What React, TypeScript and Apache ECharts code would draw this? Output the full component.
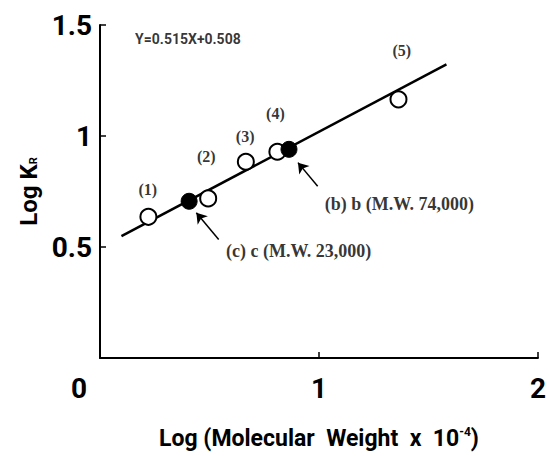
import React, { useEffect, useRef } from "react";
import * as echarts from "echarts";

// ---- data ----
const xTickValues = [0, 1, 2];
const yTickValues = [0.5, 1, 1.5];

const openX = [0.221, 0.494, 0.666, 0.81, 1.363];
const openY = [0.636, 0.719, 0.884, 0.929, 1.165];

const filledX = [0.407, 0.863];
const filledY = [0.706, 0.94];

const fitX = [0.098, 1.582];
const fitY = [0.549, 1.323];

const pointLabels = ["(1)", "(2)", "(3)", "(4)", "(5)"];
const pointLabelX = [0.218, 0.485, 0.663, 0.801, 1.378];
const pointLabelY = [0.759, 0.907, 1.0, 1.102, 1.387];

const noteTexts = ["(b) b (M.W. 74,000)", "(c) c (M.W. 23,000)"];
const noteX = [1.024, 0.573];
const noteY = [0.695, 0.481];

const arrowTailX = [0.994, 0.542];
const arrowTailY = [0.774, 0.534];
const arrowHeadX = [0.904, 0.44];
const arrowHeadY = [0.88, 0.654];

const equationText = "Y=0.515X+0.508";
const equationX = [0.158];
const equationY = [1.436];

const SANS = "Roboto, 'Liberation Sans', sans-serif";
const SERIF = "'Liberation Serif', 'DejaVu Serif', serif";

export default function App() {
  const ref = useRef<HTMLDivElement>(null);
  useEffect(() => {
    const chart = echarts.init(ref.current!, null, { renderer: "svg" });
    const tickLabelStyle = {
      fontFamily: SANS,
      fontSize: 28,
      fontWeight: "bold" as const,
      color: "#000",
    };
    const option = {
      animation: false,
      backgroundColor: "#fff",
      grid: { left: 100, right: 6, top: 25, bottom: 98 },
      xAxis: {
        type: "value",
        min: xTickValues[0],
        max: xTickValues[xTickValues.length - 1],
        interval: 1,
        splitLine: { show: false },
        axisLine: { lineStyle: { color: "#000", width: 2 } },
        axisTick: { inside: true, length: 6, lineStyle: { color: "#000", width: 1.5 } },
        axisLabel: {
          ...tickLabelStyle,
          margin: 16,
          formatter: (v: number) => (v === 0 ? "{z|0}" : String(v)),
          rich: { z: { ...tickLabelStyle, padding: [0, 42, 0, 0] } },
        },
        name: "{a|Log (Molecular  Weight  x  10}{s|-4}{a|)}",
        nameLocation: "middle",
        nameGap: 68,
        nameTextStyle: {
          rich: {
            a: { fontFamily: SANS, fontSize: 23, color: "#000", fontWeight: "bold" },
            s: { fontFamily: SANS, fontSize: 12, color: "#000", fontWeight: "bold", verticalAlign: "top", padding: [0, 0, 12, 0] },
          },
        },
      },
      yAxis: {
        type: "value",
        min: 0,
        max: yTickValues[yTickValues.length - 1],
        interval: 0.5,
        splitLine: { show: false },
        axisLine: { lineStyle: { color: "#000", width: 2 } },
        axisTick: { inside: true, length: 6, lineStyle: { color: "#000", width: 1.5 } },
        axisLabel: {
          ...tickLabelStyle,
          margin: 8,
          formatter: (v: number) => (yTickValues.includes(v) ? String(v) : ""),
        },
        name: "{a|Log K}{s|R}",
        nameLocation: "middle",
        nameGap: 58,
        nameTextStyle: {
          rich: {
            a: { fontFamily: SANS, fontSize: 24, color: "#000", fontWeight: "bold" },
            s: { fontFamily: SANS, fontSize: 11, color: "#000", fontWeight: "bold", padding: [10, 0, 0, 0] },
          },
        },
      },
      series: [
        {
          type: "line",
          data: fitX.map((x, i) => [x, fitY[i]]),
          symbol: "none",
          lineStyle: { color: "#000", width: 2.5 },
          z: 1,
        },
        {
          type: "scatter",
          data: openX.map((x, i) => [x, openY[i]]),
          symbol: "circle",
          symbolSize: 16,
          itemStyle: { color: "#fff", borderColor: "#000", borderWidth: 2, opacity: 1 },
          z: 3,
        },
        {
          type: "scatter",
          data: filledX.map((x, i) => [x, filledY[i]]),
          symbol: "circle",
          symbolSize: 16,
          itemStyle: { color: "#000", borderColor: "#000", borderWidth: 1, opacity: 1 },
          z: 4,
        },
        {
          type: "scatter",
          data: pointLabelX.map((x, i) => ({ value: [x, pointLabelY[i]], name: pointLabels[i] })),
          symbolSize: 1,
          itemStyle: { color: "rgba(0,0,0,0)" },
          label: {
            show: true,
            position: "inside",
            formatter: (p: any) => p.name,
            fontFamily: SERIF,
            fontSize: 16,
            fontWeight: "bold",
            color: "#000",
          },
          z: 5,
        },
        {
          type: "scatter",
          data: noteX.map((x, i) => ({ value: [x, noteY[i]], name: noteTexts[i] })),
          symbolSize: 1,
          itemStyle: { color: "rgba(0,0,0,0)" },
          label: {
            show: true,
            position: "right",
            distance: 0,
            formatter: (p: any) => p.name,
            fontFamily: SERIF,
            fontSize: 18,
            fontWeight: "bold",
            color: "#000",
          },
          markLine: {
            silent: true,
            symbol: ["none", "arrow"],
            symbolSize: 10,
            label: { show: false },
            lineStyle: { color: "#000", width: 1.5, type: "solid" },
            data: arrowTailX.map((x, i) => [
              { coord: [x, arrowTailY[i]] },
              { coord: [arrowHeadX[i], arrowHeadY[i]] },
            ]),
          },
          z: 6,
        },
        {
          type: "scatter",
          data: equationX.map((x, i) => ({ value: [x, equationY[i]], name: equationText })),
          symbolSize: 1,
          itemStyle: { color: "rgba(0,0,0,0)" },
          label: {
            show: true,
            position: "right",
            distance: 0,
            formatter: (p: any) => p.name,
            fontFamily: SANS,
            fontSize: 14,
            fontWeight: "bold",
            color: "#000",
          },
          z: 5,
        },
      ],
    };
    chart.setOption(option as any);
    return () => chart.dispose();
  }, []);
  return (
    <div
      ref={ref}
      style={{ position: "fixed", left: 0, top: 0, width: 549, height: 456, background: "#fff" }}
    />
  );
}
